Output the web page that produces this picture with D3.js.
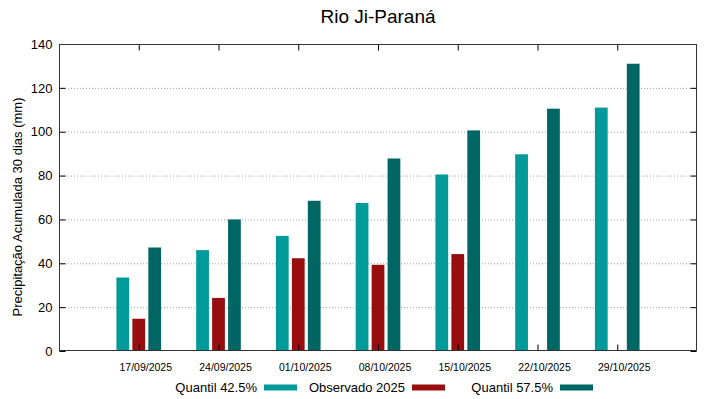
<!DOCTYPE html>
<html>
<head>
<meta charset="utf-8">
<script src="https://cdn.jsdelivr.net/npm/d3@7"></script>
<style>
  body { margin: 0; background: #fff; }
  svg { font-family: "Liberation Sans", Arial, sans-serif; }
</style>
</head>
<body>
<div id="chart"></div>
<script>
(function (d3) {
	'use strict';

	// DATA
	const dates = ["17/09/2025", "24/09/2025", "01/10/2025", "08/10/2025", "15/10/2025", "22/10/2025", "29/10/2025"];
	const quantil425 = [33.5, 46, 52.5, 67.5, 80.5, 89.7, 111];
	const observado = [14.7, 24.2, 42.3, 39.3, 44.2, null, null];
	const quantil575 = [47.2, 60, 68.5, 87.8, 100.6, 110.5, 131];
	const yTicks = [0, 20, 40, 60, 80, 100, 120, 140];

	const series = [
		{ name: "Quantil 42.5%", values: quantil425, color: "#009a9a", offset: -0.2 },
		{ name: "Observado 2025", values: observado, color: "#980e0e", offset: 0 },
		{ name: "Quantil 57.5%", values: quantil575, color: "#006664", offset: 0.2 }
	];

	const width = 719, height = 399;
	const margin = { top: 44, right: 22, bottom: 48, left: 59 };
	const innerWidth = width - margin.left - margin.right;
	const innerHeight = height - margin.top - margin.bottom;

	const svg = d3.select("#chart").append("svg")
		.attr("width", width).attr("height", height);

	// title
	svg.append("text")
		.attr("x", margin.left + innerWidth / 2)
		.attr("y", 23)
		.attr("text-anchor", "middle")
		.attr("font-size", 19)
		.attr("fill", "#000")
		.text("Rio Ji-Paraná");

	const g = svg.append("g").attr("transform", `translate(${margin.left},${margin.top})`);

	// scales
	const xScale = d3.scaleLinear().domain([-1, dates.length]).range([0, innerWidth]);
	const yScale = d3.scaleLinear().domain([0, 140]).range([innerHeight, 0]);
	const barWidth = xScale(0.16) - xScale(0);

	// grid
	g.append("g").selectAll("line")
		.data(yTicks.filter(t => t > 0 && t < 140))
		.enter().append("line")
		.attr("x1", 0).attr("x2", innerWidth)
		.attr("y1", d => yScale(d) + 0.5).attr("y2", d => yScale(d) + 0.5)
		.attr("stroke", "#a0a0a0")
		.attr("stroke-width", 1)
		.attr("stroke-dasharray", "1,2");

	// bars
	series.forEach(s => {
		g.append("g").selectAll("rect")
			.data(s.values.map((v, i) => ({ v: v, i: i })).filter(d => d.v != null))
			.enter().append("rect")
			.attr("x", d => xScale(d.i + s.offset) - barWidth / 2)
			.attr("y", d => yScale(d.v))
			.attr("width", barWidth)
			.attr("height", d => innerHeight - yScale(d.v))
			.attr("fill", s.color);
	});

	// Y axis (left and right, inward ticks)
	const yAxisL = g.append("g").attr("transform", "translate(0.5,0)")
		.call(d3.axisLeft(yScale).tickValues(yTicks).tickSize(-6).tickPadding(7));
	const yAxisR = g.append("g").attr("transform", `translate(${innerWidth - 0.5},0)`)
		.call(d3.axisRight(yScale).tickValues(yTicks).tickSize(-6).tickFormat(""));
	yAxisL.selectAll("text").attr("font-size", 13).attr("fill", "#000").attr("font-family", "Liberation Sans, Arial, sans-serif");

	// X axis (bottom and top, inward ticks)
	const idx = dates.map((d, i) => i);
	const xAxisB = g.append("g").attr("transform", `translate(0,${innerHeight - 0.5})`)
		.call(d3.axisBottom(xScale).tickValues(idx).tickSize(-6).tickFormat(""));
	const xAxisT = g.append("g").attr("transform", "translate(0,0.5)")
		.call(d3.axisTop(xScale).tickValues(idx).tickSize(-6).tickFormat(""));
	[yAxisL, yAxisR, xAxisB, xAxisT].forEach(a => {
		a.selectAll(".domain").remove();
		a.selectAll("line").attr("stroke", "#000");
	});

	// x labels
	g.append("g").selectAll("text")
		.data(dates)
		.enter().append("text")
		.attr("x", (d, i) => xScale(i) + 7)
		.attr("y", innerHeight + 20)
		.attr("text-anchor", "middle")
		.attr("font-size", 10.5)
		.attr("fill", "#000")
		.text(d => d);

	// border
	g.append("rect")
		.attr("x", 0.5).attr("y", 0.5)
		.attr("width", innerWidth - 1).attr("height", innerHeight - 1)
		.attr("fill", "none").attr("stroke", "#333").attr("stroke-width", 1);

	// y title
	svg.append("text")
		.attr("transform", "translate(22,207) rotate(-90)")
		.attr("text-anchor", "middle")
		.attr("font-size", 13)
		.attr("fill", "#000")
		.text("Precipitação Acumulada 30 dias (mm)");

	// legend
	const legend = svg.append("g").selectAll("g")
		.data(series)
		.enter().append("g")
		.attr("transform", (d, i) => `translate(${264 + i * 148},0)`);
	legend.append("rect")
		.attr("x", 0).attr("y", 384.5)
		.attr("width", 33).attr("height", 6)
		.attr("fill", d => d.color);
	legend.append("text")
		.attr("x", -7).attr("y", 392)
		.attr("text-anchor", "end")
		.attr("font-size", 13)
		.attr("fill", "#000")
		.text(d => d.name);
}(d3));
</script>
</body>
</html>
